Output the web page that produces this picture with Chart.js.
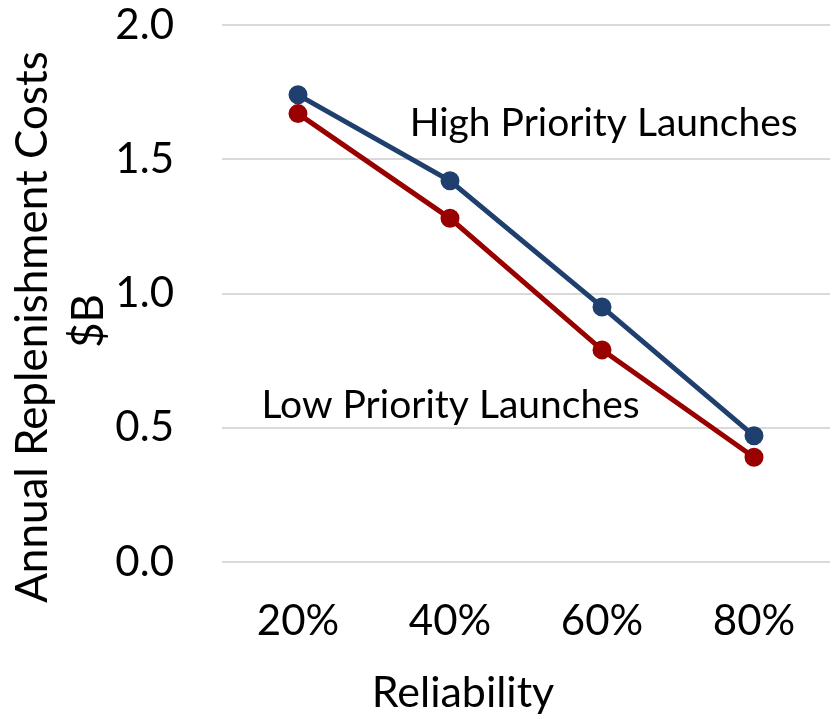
<!DOCTYPE html>
<html>
<head>
<meta charset="utf-8">
<script src="https://cdn.jsdelivr.net/npm/chart.js@4.4.1/dist/chart.umd.min.js"></script>
<style>
  html, body { margin: 0; padding: 0; background: #ffffff; overflow: hidden; }
  #wrap { width: 842px; height: 719px; }
</style>
</head>
<body>
<div id="wrap"><canvas id="chart" width="842" height="719"></canvas></div>
<script>
// Reliability levels on the x axis
const reliability = ['20%', '40%', '60%', '80%'];
// Annual replenishment costs, $B
const highPriority = [1.74, 1.42, 0.95, 0.47];
const lowPriority = [1.67, 1.28, 0.79, 0.39];
// Y axis ticks
const yTicks = [0.0, 0.5, 1.0, 1.5, 2.0];

const FONT = 'Lato, Carlito, Calibri, sans-serif';

// In-plot series labels, anchored in data space: [category position, value at baseline]
const seriesLabels = [
  { text: 'High Priority Launches', x: 0.735, y: 1.585 },
  { text: 'Low Priority Launches', x: -0.24, y: 0.535 }
];

const labelPlugin = {
  id: 'seriesLabels',
  afterDatasetsDraw(chart) {
    const { ctx, scales: { x, y } } = chart;
    ctx.save();
    ctx.fillStyle = '#000000';
    ctx.font = '39px ' + FONT;
    ctx.textAlign = 'left';
    ctx.textBaseline = 'alphabetic';
    const step = x.getPixelForValue(1) - x.getPixelForValue(0);
    seriesLabels.forEach(l => {
      const px = x.getPixelForValue(0) + l.x * step;
      ctx.fillText(l.text, px, y.getPixelForValue(l.y));
    });
    ctx.restore();
  }
};

// Axis titles: two-line vertical title beside the value axis, and the category title
const axisTitlePlugin = {
  id: 'axisTitles',
  afterDraw(chart) {
    const { ctx } = chart;
    ctx.save();
    ctx.fillStyle = '#000000';
    ctx.textAlign = 'center';
    ctx.font = '44px ' + FONT;
    ctx.textBaseline = 'middle';
    ctx.save();
    ctx.translate(33, 327);
    ctx.rotate(-Math.PI / 2);
    ctx.fillText('Annual Replenishment Costs', 0, 0);
    ctx.fillText('$B', 6, 56);
    ctx.restore();
    ctx.font = '43px ' + FONT;
    ctx.textBaseline = 'alphabetic';
    ctx.fillText('Reliability', 463, 707);
    ctx.restore();
  }
};

new Chart(document.getElementById('chart'), {
  type: 'line',
  data: {
    labels: reliability,
    datasets: [
      {
        label: 'Low Priority Launches',
        data: lowPriority,
        borderColor: '#990000',
        backgroundColor: '#990000',
        borderWidth: 5,
        pointRadius: 7,
        pointHoverRadius: 7,
        tension: 0
      },
      {
        label: 'High Priority Launches',
        data: highPriority,
        borderColor: '#1f3f6f',
        backgroundColor: '#1f3f6f',
        borderWidth: 5,
        pointRadius: 7,
        pointHoverRadius: 7,
        tension: 0
      }
    ]
  },
  options: {
    responsive: false,
    animation: false,
    devicePixelRatio: 1,
    layout: { padding: { top: 25, left: 0, right: 0, bottom: 0 } },
    plugins: {
      legend: { display: false },
      tooltip: { enabled: false }
    },
    scales: {
      x: {
        type: 'category',
        offset: true,
        grid: { display: false, drawTicks: false },
        border: { display: false },
        ticks: {
          color: '#000000',
          font: { family: FONT, size: 42 },
          padding: 34,
          maxRotation: 0
        },
        afterFit(scale) {
          scale.height = 157;
          scale.paddingLeft = 0;
          scale.paddingRight = 0;
        }
      },
      y: {
        min: 0,
        max: 2,
        afterBuildTicks(scale) {
          scale.ticks = yTicks.map(v => ({ value: v }));
        },
        grid: { color: '#d9d9d9', lineWidth: 2, drawTicks: false },
        border: { display: false },
        ticks: {
          color: '#000000',
          font: { family: FONT, size: 42 },
          padding: 48,
          callback: v => Number(v).toFixed(1)
        },
        afterFit(scale) {
          scale.width = 222;
          scale.paddingTop = 0;
          scale.paddingBottom = 0;
        }
      }
    }
  },
  plugins: [labelPlugin, axisTitlePlugin]
});
</script>
</body>
</html>
